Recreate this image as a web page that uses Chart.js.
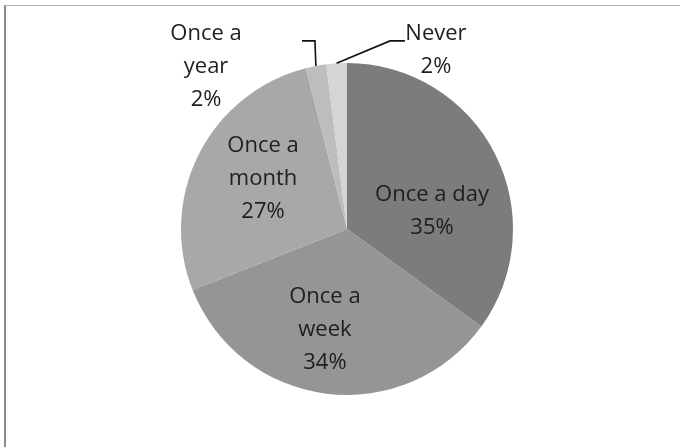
<!DOCTYPE html>
<html>
<head>
<meta charset="utf-8">
<script src="https://cdn.jsdelivr.net/npm/chart.js@4/dist/chart.umd.min.js"></script>
<style>
  html, body { margin: 0; padding: 0; background: #ffffff; }
  #wrap { position: relative; width: 680px; height: 447px; overflow: hidden; }
  #frame {
    position: absolute; left: 4px; top: 5px; width: 700px; height: 460px;
    border-left: 2px solid #8a8a8a; border-top: 1px solid #b4b4b4;
    box-sizing: border-box;
  }
  canvas { position: absolute; left: 0; top: 0; }
</style>
</head>
<body>
<div id="wrap">
  <div id="frame"></div>
  <canvas id="chart" width="680" height="447"></canvas>
</div>
<script>
// Survey answers: how often respondents do it
const categories = ['Once a day', 'Once a week', 'Once a month', 'Once a year', 'Never'];
const shares = [35, 34, 27, 2, 2];
const sliceColors = ['#7b7c7c', '#959595', '#a7a8a8', '#bdbdbd', '#d5d5d5'];

// Text lines of each data label (the value line is appended from `shares`)
const labelLines = [['Once a day'], ['Once a', 'week'], ['Once a', 'month'], ['Once a', 'year'], ['Never']];

// Label anchors, in units of the pie radius from its centre
const labelAnchors = [
  { x: 0.512, y: -0.108 },
  { x: -0.133, y: 0.608 },
  { x: -0.506, y: -0.301 },
  { x: -0.849, y: -0.976 },
  { x: 0.536, y: -1.078 }
];
// Leader lines for the labels placed outside the pie (radius units)
const leaderBends = [null, null, null,
  [{ x: -0.193, y: -1.133 }, { x: -0.271, y: -1.133 }],
  [{ x: 0.259, y: -1.133 }, { x: 0.349, y: -1.133 }]
];

const sliceLabels = {
  id: 'sliceLabels',
  afterDatasetsDraw(chart) {
    const ctx = chart.ctx;
    const arcs = chart.getDatasetMeta(0).data;
    const values = chart.data.datasets[0].data;
    ctx.save();
    arcs.forEach((arc, i) => {
      const { x: cx, y: cy, outerRadius: r, startAngle, endAngle } = arc.getProps(['x', 'y', 'outerRadius', 'startAngle', 'endAngle'], true);
      const bends = leaderBends[i];
      if (bends) {
        const mid = (startAngle + endAngle) / 2;
        ctx.beginPath();
        ctx.moveTo(cx + Math.cos(mid) * r, cy + Math.sin(mid) * r);
        bends.forEach(p => ctx.lineTo(cx + p.x * r, cy + p.y * r));
        ctx.strokeStyle = '#111111';
        ctx.lineWidth = 1.6;
        ctx.stroke();
      }
      const lines = labelLines[i].concat([values[i] + '%']);
      const lh = 33;
      const ax = cx + labelAnchors[i].x * r;
      const ay = cy + labelAnchors[i].y * r;
      ctx.font = '22px "Open Sans", sans-serif';
      ctx.fillStyle = '#1e1e1e';
      ctx.textAlign = 'center';
      ctx.textBaseline = 'middle';
      const top = ay - (lines.length - 1) * lh / 2;
      lines.forEach((t, k) => ctx.fillText(t, ax, top + k * lh));
    });
    ctx.restore();
  }
};

new Chart(document.getElementById('chart'), {
  type: 'pie',
  data: {
    labels: categories,
    datasets: [{
      data: shares,
      backgroundColor: sliceColors,
      borderWidth: 0
    }]
  },
  options: {
    responsive: false,
    animation: false,
    layout: { padding: { left: 100, right: 86, top: 63, bottom: 52 } },
    plugins: {
      legend: { display: false },
      tooltip: { enabled: false }
    }
  },
  plugins: [sliceLabels]
});
</script>
</body>
</html>
